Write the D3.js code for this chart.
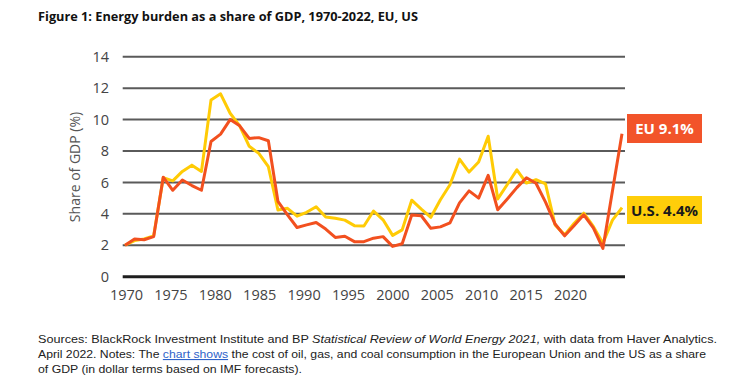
<!DOCTYPE html>
<html><head><meta charset="utf-8">
<script src="https://cdn.jsdelivr.net/npm/d3@7/dist/d3.min.js"></script>
<style>
html,body{margin:0;padding:0;background:#fff;}
svg{display:block;}
</style></head>
<body>
<svg id="chart" width="744" height="391"></svg>
<script>
const years = d3.range(1970, 2023);
const usValues = [2.0,2.3,2.4,2.6,6.3,6.1,6.7,7.1,6.7,11.25,11.64,10.4,9.6,8.3,7.85,7.0,4.25,4.35,3.85,4.1,4.45,3.8,3.72,3.6,3.25,3.23,4.18,3.62,2.63,2.98,4.87,4.3,3.78,4.9,5.85,7.48,6.66,7.3,8.94,4.95,5.87,6.8,5.96,6.17,5.9,3.3,2.66,3.4,4.04,3.2,2.13,3.6,4.4];
const euValues = [2.0,2.4,2.35,2.55,6.33,5.5,6.15,5.8,5.5,8.6,9.07,10.0,9.6,8.8,8.85,8.65,4.8,3.93,3.13,3.3,3.45,3.03,2.5,2.57,2.23,2.23,2.45,2.55,1.93,2.1,3.93,3.88,3.08,3.17,3.43,4.7,5.46,5.0,6.45,4.26,4.95,5.67,6.3,5.95,4.75,3.35,2.6,3.26,3.94,3.1,1.8,5.45,9.1];
const yTicks = [0,2,4,6,8,10,12,14];
const xTickLabels = ["1970","1975","1980","1985","1990","1995","2000","2005","2010","2015","2020"];
const seriesNames = ["U.S.","EU"];
const endLabels = ["U.S. 4.4%","EU 9.1%"];

const svg = d3.select("#chart");
const x = d3.scaleLinear().domain([1970, 2022]).range([125, 622]);
const y = d3.scaleLinear().domain([0, 14]).range([276.7, 56.7]);
const xLab = d3.scalePoint().domain(xTickLabels).range([126, 570]);

// title
svg.append("text").attr("x", 38).attr("y", 21)
  .attr("font-family", "'Open Sans', 'Liberation Sans', sans-serif")
  .attr("font-weight", "bold").attr("font-size", 12).attr("fill", "#111")
  .attr("textLength", 380).attr("lengthAdjust", "spacingAndGlyphs")
  .text("Figure 1: Energy burden as a share of GDP, 1970-2022, EU, US");

// gridlines
svg.append("g").selectAll("line").data(yTicks).join("line")
  .attr("x1", 122.7).attr("x2", 625)
  .attr("y1", d => y(d)).attr("y2", d => y(d))
  .attr("stroke", d => d === 0 ? "#1e1e1e" : "#5a5a5a")
  .attr("stroke-width", d => d === 0 ? 3 : 2);

// y axis labels
const yAxis = svg.append("g").attr("transform", "translate(109,0)")
  .call(d3.axisLeft(y).tickValues(yTicks).tickSize(0).tickPadding(0));
yAxis.select(".domain").remove();
yAxis.selectAll("text").attr("font-family", "'Open Sans', sans-serif")
  .attr("font-size", 14.5).attr("fill", "#444");

// x axis labels
const xAxis = svg.append("g").attr("transform", "translate(0,290)")
  .call(d3.axisBottom(xLab).tickSize(0).tickPadding(0));
xAxis.select(".domain").remove();
xAxis.selectAll("text").attr("font-family", "'Open Sans', sans-serif")
  .attr("font-size", 14.5).attr("fill", "#444");

// y title
svg.append("text").attr("transform", "translate(80,167) rotate(-90)")
  .attr("text-anchor", "middle").attr("font-family", "'Open Sans', sans-serif")
  .attr("font-size", 14).attr("fill", "#555").text("Share of GDP (%)");

// lines
const line = d3.line().x((d, i) => x(years[i])).y(d => y(d));
svg.append("path").datum(usValues).attr("d", line)
  .attr("fill", "none").attr("stroke", "#FFCB05").attr("stroke-width", 3)
  .attr("stroke-linejoin", "round");
svg.append("path").datum(euValues).attr("d", line)
  .attr("fill", "none").attr("stroke", "#F2501F").attr("stroke-width", 3)
  .attr("stroke-linejoin", "round");

// end labels
const boxes = [
  {label: endLabels[1], y0: 114, h: 29, fill: "#F2542A", color: "#fff"},
  {label: endLabels[0], y0: 196, h: 28, fill: "#FFCE0A", color: "#1a1a1a"}
];
boxes.forEach(b => {
  svg.append("rect").attr("x", 627).attr("y", b.y0).attr("width", 75).attr("height", b.h).attr("fill", b.fill);
  svg.append("text").attr("x", 664.5).attr("y", b.y0 + b.h / 2 + 5.5)
    .attr("text-anchor", "middle").attr("font-family", "'Open Sans', sans-serif")
    .attr("font-weight", "bold").attr("font-size", 15).attr("fill", b.color).text(b.label);
});

// footer
const foot = svg.append("g").attr("font-family", "'Liberation Sans', 'Open Sans', sans-serif")
  .attr("font-size", 11).attr("fill", "#222");
const l1 = foot.append("text").attr("x", 38).attr("y", 343)
  .attr("textLength", 679).attr("lengthAdjust", "spacingAndGlyphs");
l1.append("tspan").text("Sources: BlackRock Investment Institute and BP ");
l1.append("tspan").attr("font-style", "italic").text("Statistical Review of World Energy 2021,");
l1.append("tspan").text(" with data from Haver Analytics.");
const l2 = foot.append("text").attr("x", 38).attr("y", 358)
  .attr("textLength", 668).attr("lengthAdjust", "spacingAndGlyphs");
l2.append("tspan").text("April 2022. Notes: The ");
l2.append("tspan").attr("fill", "#2E62C9").attr("text-decoration", "underline").text("chart shows");
l2.append("tspan").text(" the cost of oil, gas, and coal consumption in the European Union and the US as a share");
foot.append("text").attr("x", 38).attr("y", 373)
  .attr("textLength", 264).attr("lengthAdjust", "spacingAndGlyphs")
  .text("of GDP (in dollar terms based on IMF forecasts).");
</script>
</body></html>
